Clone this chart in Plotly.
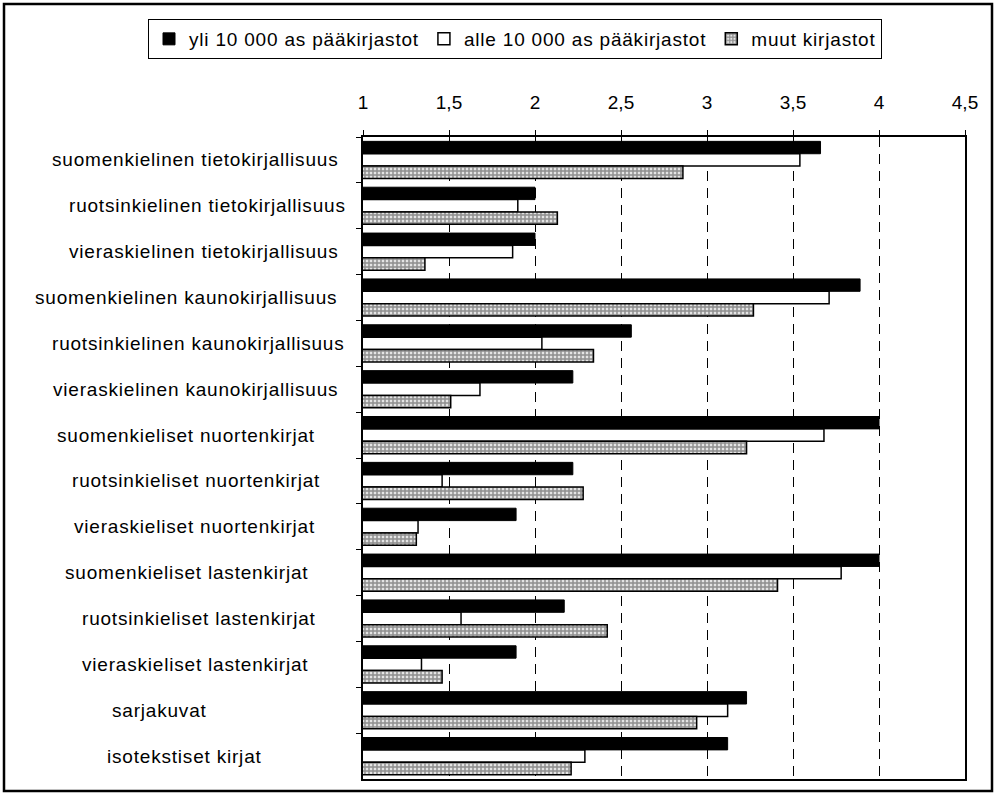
import plotly.graph_objects as go

# Kirjaston kokoelmien painotus aineistoryhmittäin (keskiarvo asteikolla 1-4,5)
categories = [
    "suomenkielinen tietokirjallisuus",
    "ruotsinkielinen tietokirjallisuus",
    "vieraskielinen tietokirjallisuus",
    "suomenkielinen kaunokirjallisuus",
    "ruotsinkielinen kaunokirjallisuus",
    "vieraskielinen kaunokirjallisuus",
    "suomenkieliset nuortenkirjat",
    "ruotsinkieliset nuortenkirjat",
    "vieraskieliset nuortenkirjat",
    "suomenkieliset lastenkirjat",
    "ruotsinkieliset lastenkirjat",
    "vieraskieliset lastenkirjat",
    "sarjakuvat",
    "isotekstiset kirjat",
]
series_names = [
    "yli 10 000 as pääkirjastot",
    "alle 10 000 as pääkirjastot",
    "muut kirjastot",
]
large_main = [3.66, 2.00, 2.00, 3.89, 2.56, 2.22, 4.00, 2.22, 1.89, 4.00, 2.17, 1.89, 3.23, 3.12]
small_main = [3.54, 1.90, 1.87, 3.71, 2.04, 1.68, 3.68, 1.46, 1.32, 3.78, 1.57, 1.34, 3.12, 2.29]
other_libs = [2.86, 2.13, 1.36, 3.27, 2.34, 1.51, 3.23, 2.28, 1.31, 3.41, 2.42, 1.46, 2.94, 2.21]
tick_vals = [1, 1.5, 2, 2.5, 3, 3.5, 4, 4.5]
tick_text = ["1", "1,5", "2", "2,5", "3", "3,5", "4", "4,5"]

# Sivun mitat ja piirtoalueen reunat pikseleinä
W, H = 995, 794
PL, PR, PT, PB = 363, 965, 137, 779
FONT = "Liberation Sans, Arial, sans-serif"
SPACING = "letter-spacing:0.8px"
FS = 19

# Luokkien tekstien keskikohdat vaakasuunnassa
label_center_px = [195, 207, 204, 186, 198, 195, 186, 196, 194, 187, 199, 195, 159, 184]


def px_x(px):
    return (px - PL) / (PR - PL)


def px_y(py):
    return (PB - py) / (PB - PT)


def spaced(text):
    return f'<span style="{SPACING}">{text}</span>'


fig = go.Figure()
fig.add_trace(go.Bar(
    y=categories, x=large_main, orientation="h", name=spaced(series_names[0]),
    marker=dict(color="black", line=dict(color="black", width=1)),
))
fig.add_trace(go.Bar(
    y=categories, x=small_main, orientation="h", name=spaced(series_names[1]),
    marker=dict(color="white", line=dict(color="black", width=1.5)),
))
fig.add_trace(go.Bar(
    y=categories, x=other_libs, orientation="h", name=spaced(series_names[2]),
    marker=dict(
        color="#b0b0b0",
        line=dict(color="black", width=1.5),
        pattern=dict(shape="+", size=4, solidity=0.6, fgcolor="#383838", bgcolor="#e4e4e4"),
    ),
))

annotations = []
for name, cx in zip(categories, label_center_px):
    annotations.append(dict(
        x=px_x(cx), xref="paper", y=name, yref="y",
        text=spaced(name), showarrow=False, xanchor="center", yanchor="middle",
        font=dict(family=FONT, size=FS, color="black"),
    ))

shapes = [
    # kaavion ulkokehys
    dict(type="rect", xref="paper", yref="paper",
         x0=px_x(4), x1=px_x(992), y0=px_y(791), y1=px_y(4),
         line=dict(color="black", width=2.5), layer="below"),
]

fig.update_layout(
    width=W, height=H,
    margin=dict(l=PL, r=W - PR, t=PT, b=H - PB, pad=0, autoexpand=False),
    paper_bgcolor="white", plot_bgcolor="white",
    font=dict(family=FONT, size=FS, color="black"),
    barmode="group", bargap=0.19, bargroupgap=0,
    showlegend=True,
    legend=dict(
        orientation="h", x=px_x(148), xanchor="left", y=px_y(19), yanchor="top",
        bordercolor="black", borderwidth=1, bgcolor="white",
        font=dict(family=FONT, size=FS, color="black"),
        itemwidth=30, traceorder="normal", tracegroupgap=0,
    ),
    xaxis=dict(
        side="top", range=[1, 4.5], tickmode="array", tickvals=tick_vals, ticktext=tick_text,
        showline=True, linecolor="black", linewidth=1.5, mirror=True,
        ticks="outside", ticklen=5, tickwidth=1, tickcolor="black",
        ticklabelstandoff=14,
        showgrid=True, gridcolor="black", gridwidth=1, griddash="10px,7px",
        zeroline=False, tickfont=dict(family=FONT, size=FS, color="black"),
    ),
    yaxis=dict(
        type="category", autorange="reversed",
        showline=True, linecolor="black", linewidth=1.5, mirror=True,
        ticks="outside", tickson="boundaries", ticklen=5, tickwidth=1, tickcolor="black",
        showticklabels=False, showgrid=False, zeroline=False,
    ),
    annotations=annotations,
    shapes=shapes,
)

fig.write_html("out.html")
